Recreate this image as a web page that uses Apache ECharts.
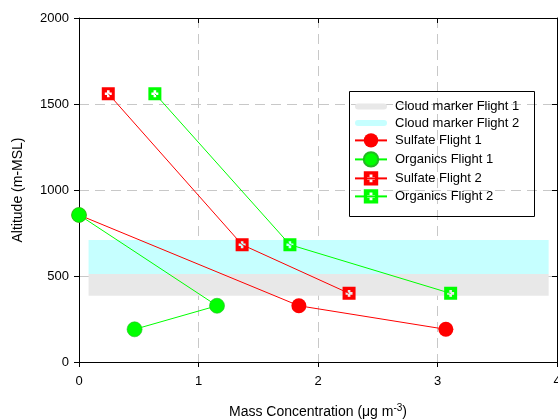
<!DOCTYPE html>
<html>
<head>
<meta charset="utf-8">
<script src="https://cdn.jsdelivr.net/npm/echarts@6/dist/echarts.min.js"></script>
<style>html,body{margin:0;padding:0;background:#fff}#c{width:558px;height:420px}</style>
</head>
<body>
<div id="c"></div>
<script>
// ---- data ----
const xTicks = [0, 1, 2, 3, 4];
const yTicks = [0, 500, 1000, 1500, 2000];

const sulfateF1X = [0, 1.84, 3.07];
const sulfateF1Y = [855, 327, 190];
const organicsF1X = [0, 1.155, 0.465];
const organicsF1Y = [855, 327, 190];
const sulfateF2X = [0.245, 1.365, 2.26];
const sulfateF2Y = [1560, 682, 399];
const organicsF2X = [0.635, 1.765, 3.11];
const organicsF2Y = [1560, 682, 399];

const cloudX = [0.08, 3.93];
const cloudF1Alt = [385, 512];
const cloudF2Alt = [512, 709];

const seriesNames = ['Cloud marker Flight 1', 'Cloud marker Flight 2', 'Sulfate Flight 1', 'Organics Flight 1', 'Sulfate Flight 2', 'Organics Flight 2'];

// ---- chart ----
const pts = (xs, ys) => xs.map((x, i) => [x, ys[i]]);
const squarePlus = 'path://M0 0H12V12H0Z M4.8 2.8V4.8H2.8V7.2H4.8V9.2H7.2V7.2H9.2V4.8H7.2V2.8Z';
const thickLine = 'path://M3 0H29A3 3 0 0 1 29 6H3A3 3 0 0 1 3 0Z';
const RED = '#ff0000', GREEN = '#00ff00';

const chart = echarts.init(document.getElementById('c'), null, {renderer: 'canvas'});
const font = 'Liberation Sans, Arial, sans-serif';

function band(name, color, alt) {
  return {
    name: name, type: 'line', data: [], symbol: 'none', silent: true,
    lineStyle: {color: color, width: 6, cap: 'round'},
    itemStyle: {color: color},
    z: 1,
    markArea: {
      silent: true,
      itemStyle: {color: color, borderRadius: 3},
      data: [[{coord: [cloudX[0], alt[0]]}, {coord: [cloudX[1], alt[1]]}]]
    }
  };
}
function lineSeries(name, color, data, symbol, size, border) {
  return {
    name: name, type: 'line', data: data, symbol: symbol, symbolSize: size,
    showAllSymbol: true, z: 3,
    lineStyle: {color: color, width: 1},
    itemStyle: {color: color, opacity: 1, borderColor: border || color, borderWidth: border ? 0.6 : 0},
    emphasis: {disabled: true}
  };
}

chart.setOption({
  animation: false,
  textStyle: {fontFamily: font},
  grid: {left: 79, right: 1, top: 18, bottom: 58, outerBoundsMode: 'none', containLabel: false},
  xAxis: [{
    type: 'value', min: xTicks[0], max: xTicks[xTicks.length - 1], interval: 1,
    name: 'Mass Concentration (μg m{sup|-3})', nameLocation: 'middle', nameGap: 41,
    nameTextStyle: {fontSize: 14, color: '#000', fontFamily: font,
      rich: {sup: {fontSize: 10, verticalAlign: 'top', padding: [0, 0, 8, 0], color: '#000'}}},
    axisLine: {show: true, lineStyle: {color: '#000', width: 1}},
    axisTick: {show: true, length: 5, lineStyle: {color: '#000'}},
    axisLabel: {fontSize: 13, color: '#000', margin: 13, fontFamily: font, formatter: v => String(v)},
    splitLine: {show: true, lineStyle: {color: '#c8c8c8', type: [10, 6], width: 1}}
  }, {
    type: 'value', position: 'top', min: xTicks[0], max: xTicks[xTicks.length - 1], interval: 1,
    axisLine: {show: true, onZero: false, lineStyle: {color: '#000'}},
    axisTick: {show: true, inside: true, length: 5, lineStyle: {color: '#000'}},
    axisLabel: {show: false}, splitLine: {show: false}
  }],
  yAxis: [{
    type: 'value', min: yTicks[0], max: yTicks[yTicks.length - 1], interval: 500,
    name: 'Altitude (m-MSL)', nameLocation: 'middle', nameGap: 54,
    nameTextStyle: {fontSize: 14, color: '#000', fontFamily: font},
    axisLine: {show: true, lineStyle: {color: '#000', width: 1}},
    axisTick: {show: true, length: 5, lineStyle: {color: '#000'}},
    axisLabel: {fontSize: 13, color: '#000', margin: 10, fontFamily: font, formatter: v => String(v)},
    splitLine: {show: true, lineStyle: {color: '#c8c8c8', type: [10, 6], width: 1}}
  }, {
    type: 'value', position: 'right', min: yTicks[0], max: yTicks[yTicks.length - 1], interval: 500,
    axisLine: {show: true, onZero: false, lineStyle: {color: '#000'}},
    axisTick: {show: true, inside: true, length: 5, lineStyle: {color: '#000'}},
    axisLabel: {show: false}, splitLine: {show: false}
  }],
  legend: {
    orient: 'vertical', left: 354, top: 100, itemWidth: 32, itemHeight: 18, itemGap: 3.6, padding: 0,
    data: [
      {name: seriesNames[0], icon: thickLine},
      {name: seriesNames[1], icon: thickLine},
      seriesNames[2], seriesNames[3], seriesNames[4], seriesNames[5]
    ],
    textStyle: {fontSize: 13, color: '#000', fontFamily: font, padding: [0, 0, 0, 3]},
    selectedMode: false
  },
  graphic: [{
    type: 'rect', left: 347, top: 89, z: 100,
    shape: {width: 185, height: 125},
    style: {fill: 'none', stroke: '#000', lineWidth: 1}
  }],
  series: [
    band(seriesNames[0], '#e8e8e8', cloudF1Alt),
    band(seriesNames[1], '#c6ffff', cloudF2Alt),
    lineSeries(seriesNames[2], RED, pts(sulfateF1X, sulfateF1Y), 'circle', 15),
    lineSeries(seriesNames[3], GREEN, pts(organicsF1X, organicsF1Y), 'circle', 15, '#22bb22'),
    lineSeries(seriesNames[4], RED, pts(sulfateF2X, sulfateF2Y), squarePlus, 13),
    lineSeries(seriesNames[5], GREEN, pts(organicsF2X, organicsF2Y), squarePlus, 13)
  ]
});
</script>
</body>
</html>
